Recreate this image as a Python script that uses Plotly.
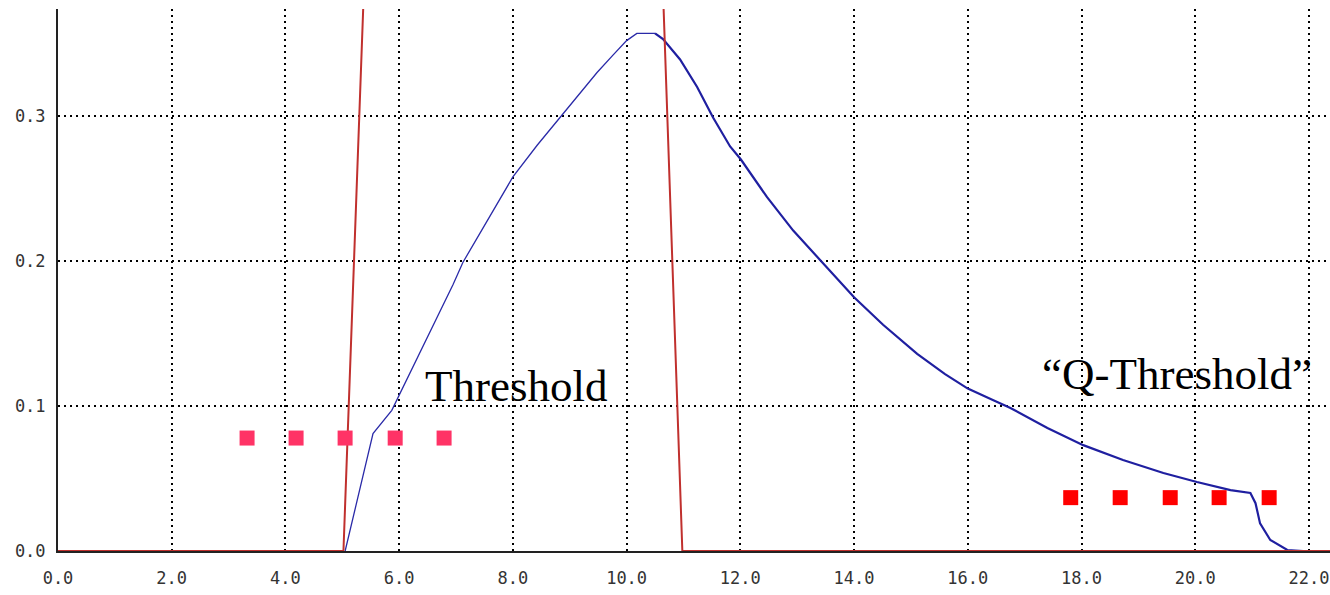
import plotly.graph_objects as go

# Red curve (large peak, clipped at top of the plot)
red_x = [0.0, 5.02, 5.41, 10.61, 10.98, 22.4]
red_y = [0.0, 0.0, 0.42, 0.42, 0.0, 0.0]

# Blue curve: rising part (thin) and falling part (thicker)
blue_rise_x = [5.05, 5.54, 5.87, 6.02, 6.37, 6.67, 6.95, 7.12, 7.55, 8.0, 8.43, 8.83, 9.13,
               9.48, 9.76, 10.0, 10.18, 10.5]
blue_rise_y = [0.0, 0.081, 0.097, 0.109, 0.137, 0.161, 0.184, 0.199, 0.228, 0.258, 0.280, 0.299,
               0.313, 0.330, 0.342, 0.352, 0.357, 0.357]
blue_fall_x = [10.5, 10.64, 10.94, 11.24, 11.52, 11.82, 12.01, 12.47, 12.93, 13.44, 14.0, 14.51,
               15.11, 15.6, 16.0, 16.45, 16.75, 17.4, 18.03, 18.73, 19.44, 20.03, 20.62, 20.97,
               21.06, 21.14, 21.32, 21.62, 21.9]
blue_fall_y = [0.357, 0.353, 0.339, 0.320, 0.299, 0.279, 0.270, 0.244, 0.221, 0.199, 0.175, 0.156,
               0.136, 0.122, 0.112, 0.104, 0.0986, 0.0848, 0.073, 0.0628, 0.0538, 0.0476, 0.042,
               0.040, 0.033, 0.019, 0.0076, 0.0007, 0.0]

# Marker rows
thr_x = [3.325, 4.187, 5.049, 5.93, 6.79]
thr_y = [0.0779, 0.0779, 0.0779, 0.0779, 0.0779]
qthr_x = [17.81, 18.68, 19.56, 20.42, 21.30]
qthr_y = [0.0368, 0.0368, 0.0368, 0.0368, 0.0368]

labels = ["Threshold", "\u201cQ-Threshold\u201d"]
label_x = [8.06, 19.68]
label_y = [0.114, 0.122]

x_ticks = [0, 2, 4, 6, 8, 10, 12, 14, 16, 18, 20, 22]
y_ticks = [0.0, 0.1, 0.2, 0.3]

fig = go.Figure()
fig.add_trace(go.Scatter(x=blue_rise_x, y=blue_rise_y, mode="lines",
                         line=dict(color="#2a2aa8", width=1.3), showlegend=False))
fig.add_trace(go.Scatter(x=blue_fall_x, y=blue_fall_y, mode="lines",
                         line=dict(color="#1f1fa0", width=2.2), showlegend=False))
fig.add_trace(go.Scatter(x=red_x, y=red_y, mode="lines",
                         line=dict(color="#c0302e", width=2), showlegend=False))
fig.add_trace(go.Scatter(x=thr_x, y=thr_y, mode="markers",
                         marker=dict(symbol="square", size=15, color="#ff3366"), showlegend=False))
fig.add_trace(go.Scatter(x=qthr_x, y=qthr_y, mode="markers",
                         marker=dict(symbol="square", size=15, color="#ff0000"), showlegend=False))

for t, lx, ly in zip(labels, label_x, label_y):
    fig.add_annotation(x=lx, y=ly, text=t, showarrow=False, xanchor="center", yanchor="middle",
                       font=dict(family="Liberation Serif, Times New Roman, serif", size=45, color="#000"))

tick_font = dict(family="DejaVu Sans Mono, monospace", size=17, color="#333")
fig.update_layout(
    width=1330, height=595,
    margin=dict(l=58, r=0, t=9, b=44, autoexpand=False),
    paper_bgcolor="white", plot_bgcolor="white",
    xaxis=dict(range=[0, 22.37], tickvals=x_ticks, tickformat=".1f", showgrid=True,
               gridcolor="#000", gridwidth=1.5, griddash="2px,4px", zeroline=False,
               showline=True, linecolor="#222", linewidth=2, ticks="", tickfont=tick_font,
               ticklabelstandoff=11, automargin=False, ticklabeloverflow="allow"),
    yaxis=dict(range=[0, 0.3738], tickvals=y_ticks, tickformat=".1f", showgrid=True,
               gridcolor="#000", gridwidth=1.5, griddash="2px,4px", zeroline=False,
               showline=True, linecolor="#222", linewidth=2, ticks="", tickfont=tick_font,
               ticklabelstandoff=7, automargin=False, ticklabeloverflow="allow"),
)
fig.write_html("out.html", config={"displayModeBar": False},
               post_script="document.body.style.margin='0';document.body.style.overflow='hidden';")
